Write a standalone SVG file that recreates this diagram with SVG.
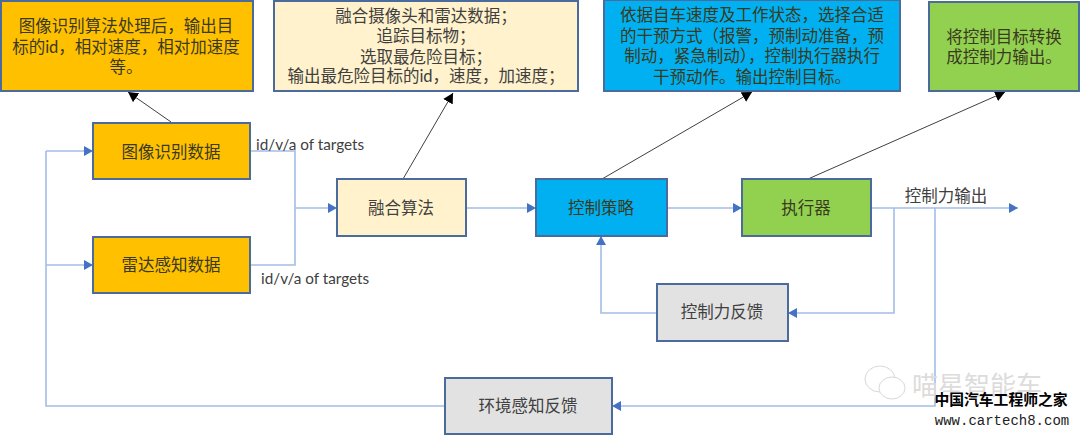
<svg xmlns="http://www.w3.org/2000/svg" width="1080" height="435" viewBox="0 0 1080 435">
<style>
text{font-family:"Lato","Noto Sans CJK SC",sans-serif;font-size:16.5px;text-anchor:middle;fill:#404040}
.box{stroke:#4a6b9c;stroke-width:2}
.orange{fill:#ffc000}.cream{fill:#fff2cc}.blue{fill:#00b0f0}.green{fill:#92d050}.grey{fill:#e2e2e2}
.dark{fill:#3a3a20}
.flow{fill:none;stroke:#a4bde6;stroke-width:1.6}
.call{fill:none;stroke:#404040;stroke-width:1}
.lab{text-anchor:start;font-size:15.3px}
.wm{fill:#fff;stroke:#d8d8d8;stroke-width:1}
</style>
<defs>
<marker id="ab" markerUnits="userSpaceOnUse" markerWidth="10" markerHeight="10" refX="9" refY="5" orient="auto"><path d="M0,0L9,5L0,10Z" fill="#4472c4"/></marker>
<marker id="ak" markerUnits="userSpaceOnUse" markerWidth="11" markerHeight="11" refX="10" refY="5.5" orient="auto"><path d="M0,0L10,5.5L0,11Z" fill="#000"/></marker>
</defs>
<rect width="1080" height="435" fill="#fff"/>
<g id="connectors">
<path class="flow" d="M250,151H295V265H250"/>
<path class="flow" marker-end="url(#ab)" d="M295,208H337"/>
<path class="flow" marker-end="url(#ab)" d="M466,208H536"/>
<path class="flow" marker-end="url(#ab)" d="M667,208H742"/>
<path class="flow" marker-end="url(#ab)" d="M871,208H1018"/>
<path class="flow" marker-end="url(#ab)" d="M894,208V313H788"/>
<path class="flow" marker-end="url(#ab)" d="M657,313H601V236"/>
<path class="flow" marker-end="url(#ab)" d="M935,208V406H612"/>
<path class="flow" d="M445,406H46V151"/>
<path class="flow" marker-end="url(#ab)" d="M46,151H93"/>
<path class="flow" marker-end="url(#ab)" d="M46,265H93"/>
<path class="call" marker-end="url(#ak)" d="M171,122L128,92"/>
<path class="call" marker-end="url(#ak)" d="M403,179L453,93"/>
<path class="call" marker-end="url(#ak)" d="M602,179L752,92"/>
<path class="call" marker-end="url(#ak)" d="M808,179L1005,92"/>
</g>
<g id="note-vision"><rect class="box orange" x="1" y="1" width="252" height="90"/>
<text class="dark" x="126" y="32">图像识别算法处理后，输出目</text><text class="dark" x="126" y="53">标的id，相对速度，相对加速度</text><text class="dark" x="126" y="73">等。</text></g>
<g id="note-fusion"><rect class="box cream" x="274" y="1" width="304" height="90"/>
<text x="426" y="22">融合摄像头和雷达数据；</text><text x="426" y="42">追踪目标物；</text><text x="426" y="63">选取最危险目标；</text><text x="426" y="82">输出最危险目标的id，速度，加速度；</text></g>
<g id="note-strategy"><rect class="box blue" x="604" y="0" width="296" height="91"/>
<text class="dark" x="752" y="21">依据自车速度及工作状态，选择合适</text><text class="dark" x="752" y="42">的干预方式（报警，预制动准备，预</text><text class="dark" x="752" y="62">制动，紧急制动），控制执行器执行</text><text class="dark" x="752" y="83">干预动作。输出控制目标。</text></g>
<g id="note-actuator"><rect class="box green" x="929" y="2" width="150" height="89"/>
<text class="dark" x="1004" y="43">将控制目标转换</text><text class="dark" x="1004" y="63">成控制力输出。</text></g>
<g id="vision"><rect class="box orange" x="93" y="123" width="157" height="56"/><text class="dark" x="171" y="158">图像识别数据</text></g>
<g id="radar"><rect class="box orange" x="93" y="237" width="157" height="56"/><text class="dark" x="171" y="271">雷达感知数据</text></g>
<g id="fusion"><rect class="box cream" x="337" y="179" width="129" height="57"/><text x="401" y="214">融合算法</text></g>
<g id="strategy"><rect class="box blue" x="536" y="179" width="131" height="57"/><text class="dark" x="601" y="214">控制策略</text></g>
<g id="actuator"><rect class="box green" x="742" y="179" width="129" height="57"/><text class="dark" x="806" y="214">执行器</text></g>
<g id="force-feedback"><rect class="box grey" x="657" y="284" width="131" height="57"/><text x="722" y="318">控制力反馈</text></g>
<g id="env-feedback"><rect class="box grey" x="445" y="378" width="167" height="56"/><text x="528" y="412">环境感知反馈</text></g>
<g id="labels">
<text class="lab" x="256" y="150">id/v/a of targets</text>
<text class="lab" x="261" y="284">id/v/a of targets</text>
<text x="946" y="202">控制力输出</text>
</g>
<g id="watermark">
<ellipse class="wm" cx="880" cy="379" rx="15" ry="13"/>
<ellipse class="wm" cx="892" cy="388" rx="13" ry="11"/>
<text x="977" y="395" style="font-size:26px;fill:#dcdcdc">喵星智能车</text>
<text x="1001" y="405" style="font-size:14.8px;fill:#000;font-weight:700">中国汽车工程师之家</text>
<text x="1002" y="425" style="font-family:'Liberation Mono',monospace;font-size:14px;fill:#222">www.cartech8.com</text>
</g>
</svg>
